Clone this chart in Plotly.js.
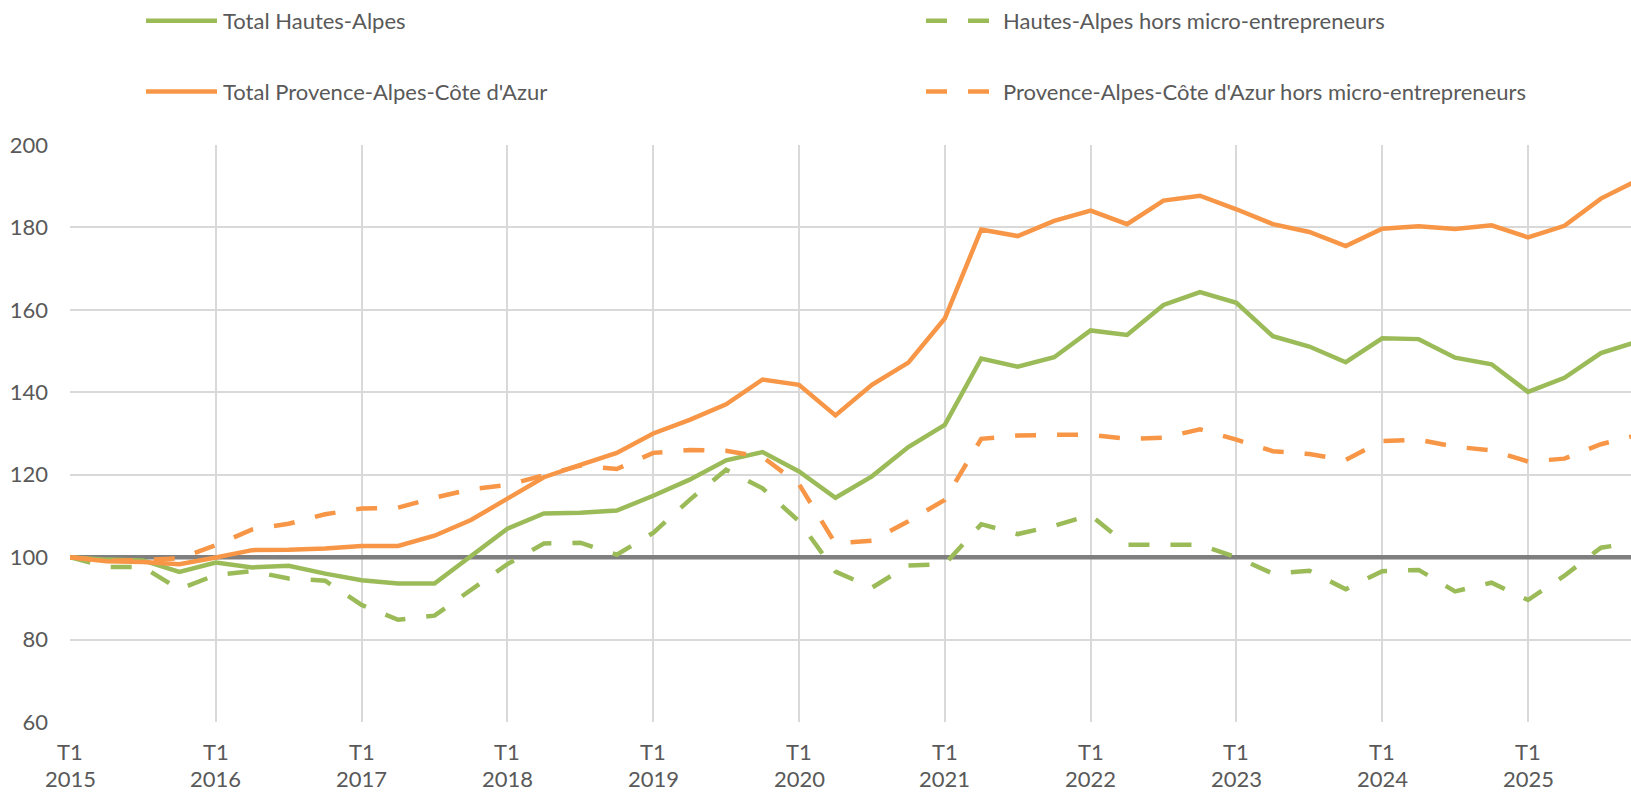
<!DOCTYPE html>
<html>
<head>
<meta charset="utf-8">
<script src="https://cdn.plot.ly/plotly-3.0.1.min.js"></script>
<style>
html,body{margin:0;padding:0;background:#ffffff;}
#chart{width:1631px;height:793px;}
</style>
</head>
<body>
<div id="chart"></div>
<script>
// ---- Data (index base 100 = T1 2015) ----
const years = [2015, 2016, 2017, 2018, 2019, 2020, 2021, 2022, 2023, 2024, 2025];
const quarterNames = ["T1", "T2", "T3", "T4"];
const seriesNames = [
  "Total Hautes-Alpes",
  "Hautes-Alpes hors micro-entrepreneurs",
  "Total Provence-Alpes-Côte d'Azur",
  "Provence-Alpes-Côte d'Azur hors micro-entrepreneurs"
];
const totalHautesAlpes = [
  100.0, 99.4, 99.2, 96.4, 98.7, 97.5, 97.9, 96.0, 94.4, 93.6, 93.6, 100.4,
  106.9, 110.6, 110.8, 111.3, 114.9, 118.8, 123.5, 125.5, 120.8, 114.4, 119.6, 126.7,
  132.1, 148.2, 146.2, 148.5, 155.0, 153.9, 161.2, 164.3, 161.7, 153.6, 151.1, 147.3,
  153.1, 152.9, 148.4, 146.8, 140.1, 143.5, 149.5, 152.3
];
const hautesAlpesHorsMicro = [
  100.0, 97.6, 97.6, 92.2, 95.7, 96.6, 94.8, 94.3, 88.4, 84.8, 85.8, 92.0,
  98.3, 103.3, 103.5, 100.6, 105.9, 113.9, 121.2, 116.7, 108.7, 96.5, 92.6, 98.0,
  98.3, 108.0, 105.6, 107.6, 110.2, 103.0, 103.0, 103.0, 100.0, 96.0, 96.7, 92.2,
  96.6, 96.9, 91.7, 93.8, 89.6, 95.5, 102.3, 103.6
];
const totalPaca = [
  100.0, 99.0, 98.8, 98.3, 99.9, 101.7, 101.8, 102.1, 102.7, 102.7, 105.2, 109.0,
  114.2, 119.4, 122.4, 125.3, 130.0, 133.3, 137.1, 143.1, 141.8, 134.4, 141.8, 147.2,
  157.9, 179.5, 177.9, 181.6, 184.1, 180.8, 186.5, 187.7, 184.4, 180.8, 178.9, 175.5,
  179.7, 180.3, 179.6, 180.5, 177.6, 180.4, 187.0, 191.4
];
const pacaHorsMicro = [
  100.0, 99.1, 99.3, 99.7, 102.9, 106.7, 108.1, 110.4, 111.8, 112.0, 114.4, 116.5,
  117.5, 119.8, 122.2, 121.4, 125.3, 126.0, 125.8, 124.3, 117.7, 103.3, 104.0, 108.7,
  113.9, 128.7, 129.5, 129.7, 129.7, 128.7, 129.0, 131.0, 128.5, 125.7, 125.0, 123.6,
  128.2, 128.5, 126.8, 125.9, 123.2, 123.9, 127.4, 129.6
];
const referenceIndex = 100;
const yTickValues = [60, 80, 100, 120, 140, 160, 180, 200];

// ---- Build categories ----
const categories = [];
years.forEach(y => quarterNames.forEach(q => categories.push(q + " " + y)));
const yearStartCats = years.map(y => "T1 " + y);

// ---- Styles ----
const GREEN = "#9BBB59";
const ORANGE = "#F79646";
const GREY_LINE = "#7F7F7F";
const GRID = "#D9D9D9";
const TEXT = "#595959";
const FONT = "Lato, 'Open Sans', sans-serif";
const FSIZE = 22;
const LW = 4.5;
const DASH = "21px,21px";

const W = 1631, H = 793;
const M = {l: 70, r: 0, t: 145, b: 71};
const plotW = W - M.l - M.r, plotH = H - M.t - M.b;
const pxX = px => (px - M.l) / plotW;
const pxY = py => (H - M.b - py) / plotH;
const quarterPx = 36.45;
const xMax = plotW / quarterPx;

const styles = [
  {color: GREEN, dash: "solid"},
  {color: GREEN, dash: DASH},
  {color: ORANGE, dash: "solid"},
  {color: ORANGE, dash: DASH}
];
const seriesValues = [totalHautesAlpes, hautesAlpesHorsMicro, totalPaca, pacaHorsMicro];

// reference line at index 100 (drawn first, under the series)
const traces = [{
  type: "scatter", mode: "lines", name: "Base 100",
  x: categories, y: categories.map(() => referenceIndex),
  line: {color: GREY_LINE, width: LW},
  showlegend: false, hoverinfo: "skip"
}];
seriesValues.forEach((vals, i) => traces.push({
  type: "scatter",
  mode: "lines",
  name: seriesNames[i],
  x: categories,
  y: vals,
  line: {color: styles[i].color, width: LW, dash: styles[i].dash},
  showlegend: false,
  hoverinfo: "x+y+name"
}));

// ---- Manual legend (two columns, two rows) ----
const legendRows = [20.8, 20.8, 91.5, 91.5];
const legendCols = [{x0: 146, x1: 217, tx: 221}, {x0: 926, x1: 990, tx: 1001}, {x0: 146, x1: 217, tx: 221}, {x0: 926, x1: 990, tx: 1001}];
const shapes = [];
const annotations = [];
seriesNames.forEach((name, i) => {
  const c = legendCols[i];
  shapes.push({
    type: "line", xref: "paper", yref: "paper", layer: "above",
    x0: pxX(c.x0), x1: pxX(c.x1), y0: pxY(legendRows[i]), y1: pxY(legendRows[i]),
    line: {color: styles[i].color, width: LW, dash: styles[i].dash}
  });
  annotations.push({
    xref: "paper", yref: "paper", x: pxX(c.tx), y: pxY(legendRows[i]),
    xanchor: "left", yanchor: "middle", showarrow: false,
    text: name, font: {family: FONT, size: FSIZE, color: TEXT}
  });
});

// ---- x tick labels (two lines: quarter / year) ----
yearStartCats.forEach((cat, i) => {
  annotations.push({
    xref: "x", yref: "paper", x: cat, y: 0, xanchor: "center", yanchor: "middle",
    yshift: -29, showarrow: false, text: quarterNames[0], borderpad: 0,
    font: {family: FONT, size: FSIZE, color: TEXT}
  });
  annotations.push({
    xref: "x", yref: "paper", x: cat, y: 0, xanchor: "center", yanchor: "middle",
    yshift: -56, showarrow: false, text: String(years[i]), borderpad: 0,
    font: {family: FONT, size: FSIZE, color: TEXT}
  });
});

const layout = {
  width: W, height: H,
  margin: M,
  paper_bgcolor: "#ffffff",
  plot_bgcolor: "#ffffff",
  showlegend: false,
  font: {family: FONT, size: FSIZE, color: TEXT},
  xaxis: {
    type: "category",
    categoryorder: "array",
    categoryarray: categories,
    range: [0, xMax],
    tickmode: "array",
    tickvals: yearStartCats.slice(1),
    showticklabels: false,
    ticks: "",
    showgrid: true,
    gridcolor: GRID,
    gridwidth: 2,
    showline: false,
    zeroline: false,
    fixedrange: true
  },
  yaxis: {
    range: [60, 200],
    tickmode: "array",
    tickvals: yTickValues,
    ticks: "",
    ticklabelstandoff: 21,
    showgrid: true,
    gridcolor: GRID,
    gridwidth: 2,
    zeroline: false,
    showline: false,
    tickfont: {family: FONT, size: FSIZE, color: TEXT},
    fixedrange: true
  },
  shapes: shapes,
  annotations: annotations
};

Plotly.newPlot("chart", traces, layout, {displayModeBar: false, staticPlot: true});
</script>
</body>
</html>
